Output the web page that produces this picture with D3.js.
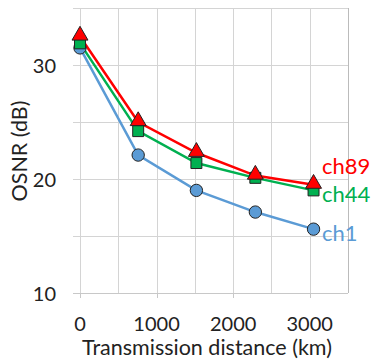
<!DOCTYPE html>
<html>
<head>
<meta charset="utf-8">
<script src="https://cdn.jsdelivr.net/npm/d3@7"></script>
<style>
  body { margin: 0; background: #fff; }
  svg { font-family: Lato, "Open Sans", sans-serif; }
</style>
</head>
<body>
<svg id="chart" width="375" height="360"></svg>
<script>
// distances (km) and OSNR (dB) per channel
const DISTANCES = [0, 760, 1520, 2290, 3050];
const CH1 = [31.5, 22.1, 19.0, 17.1, 15.6];
const CH44 = [31.9, 24.2, 21.4, 20.1, 19.0];
const CH89 = [32.5, 25.0, 22.3, 20.3, 19.5];
const X_TICKS = [0, 1000, 2000, 3000];
const Y_TICKS = [10, 20, 30];

const series = [
    {name: 'ch1', values: CH1, color: '#5B9BD5', shape: 'circle'},
    {name: 'ch44', values: CH44, color: '#00B050', shape: 'square'},
    {name: 'ch89', values: CH89, color: '#FF0000', shape: 'triangle'}
];

const svg = d3.select('#chart');
const margin = {top: 8, right: 27, bottom: 67, left: 80};
const W = 375, H = 360;

const x = d3.scaleLinear().domain([0, 3500]).range([margin.left, W - margin.right]);
const y = d3.scaleLinear().domain([10, 35]).range([H - margin.bottom, margin.top]);

// grid
const grid = svg.append('g').attr('stroke', '#d4d4d4').attr('stroke-width', 1);
d3.range(0, 3501, 500).forEach(v => {
    grid.append('line')
        .attr('x1', Math.round(x(v)) + 0.5).attr('x2', Math.round(x(v)) + 0.5)
        .attr('y1', y(35)).attr('y2', y(10));
});
d3.range(15, 36, 5).forEach(v => {
    grid.append('line')
        .attr('x1', x(0) - 7).attr('x2', x(3500))
        .attr('y1', Math.round(y(v)) + 0.5).attr('y2', Math.round(y(v)) + 0.5);
});
// right border
grid.append('line')
    .attr('x1', Math.round(x(3500)) + 0.5).attr('x2', Math.round(x(3500)) + 0.5)
    .attr('y1', y(35)).attr('y2', y(10))
    .attr('stroke', '#bbb');

// bottom axis line with ticks
const axisG = svg.append('g').attr('stroke', '#c8c8c8').attr('stroke-width', 1);
axisG.append('line')
    .attr('x1', x(0) - 7).attr('x2', x(3500))
    .attr('y1', Math.round(y(10)) + 0.5).attr('y2', Math.round(y(10)) + 0.5);
X_TICKS.forEach(v => {
    axisG.append('line')
        .attr('x1', Math.round(x(v)) + 0.5).attr('x2', Math.round(x(v)) + 0.5)
        .attr('y1', y(10)).attr('y2', y(10) + 5);
});

// tick labels
svg.append('g').selectAll('text').data(Y_TICKS).join('text')
    .attr('x', x(0) - 24).attr('y', d => y(d))
    .attr('text-anchor', 'end').attr('dominant-baseline', 'central')
    .attr('font-size', 20).attr('fill', '#222')
    .text(d => d);
svg.append('g').selectAll('text').data(X_TICKS).join('text')
    .attr('x', d => x(d)).attr('y', y(10) + 30)
    .attr('text-anchor', 'middle').attr('dominant-baseline', 'central')
    .attr('font-size', 20).attr('fill', '#222')
    .text(d => d);

// axis titles
svg.append('text')
    .attr('x', 207).attr('y', 347)
    .attr('text-anchor', 'middle').attr('dominant-baseline', 'central')
    .attr('font-size', 21.5).attr('fill', '#222')
    .text('Transmission distance (km)');
svg.append('text')
    .attr('transform', `translate(19,151) rotate(-90)`)
    .attr('text-anchor', 'middle').attr('dominant-baseline', 'central')
    .attr('font-size', 21.5).attr('fill', '#222')
    .text('OSNR (dB)');

// lines
const line = d3.line().x((d, i) => x(DISTANCES[i])).y(d => y(d));
series.forEach(s => {
    svg.append('path')
        .attr('d', line(s.values))
        .attr('fill', 'none')
        .attr('stroke', s.color)
        .attr('stroke-width', 2.5);
});

// markers
const symbols = {
    circle: d3.symbol(d3.symbolCircle, 120),
    square: d3.symbol(d3.symbolSquare, 120),
    triangle: d3.symbol(d3.symbolTriangle, 110)
};
series.forEach(s => {
    svg.append('g').selectAll('path').data(s.values).join('path')
        .attr('transform', (d, i) => `translate(${x(DISTANCES[i])},${y(d) - (s.shape === 'triangle' ? 1 : 0)})`)
        .attr('d', symbols[s.shape]())
        .attr('fill', s.color)
        .attr('stroke', '#222')
        .attr('stroke-width', 1);
});

// series labels
const labelY = {ch89: 165, ch44: 193, ch1: 232};
series.forEach(s => {
    svg.append('text')
        .attr('x', 322).attr('y', labelY[s.name])
        .attr('dominant-baseline', 'central')
        .attr('font-size', 22).attr('fill', s.color)
        .text(s.name);
});
</script>
</body>
</html>
